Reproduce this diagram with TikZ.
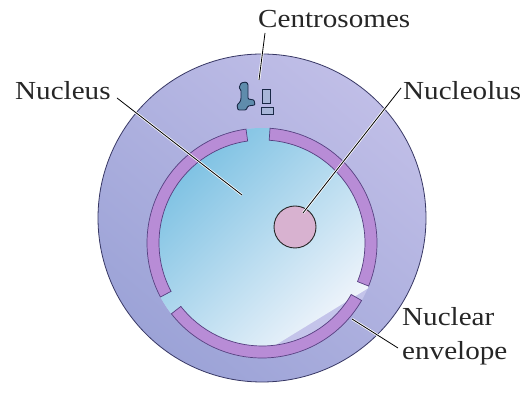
\documentclass[tikz,border=0pt]{standalone}
\usepackage{fontspec}
\setmainfont[FakeStretch=1.12]{Liberation Serif}
\definecolor{cytoLight}{RGB}{192,190,231}
\definecolor{cytoDark}{RGB}{156,163,215}
\definecolor{cytoPale}{RGB}{196,196,234}
\definecolor{nucTop}{RGB}{122,192,226}
\definecolor{nucBottom}{RGB}{244,246,252}
\definecolor{envFill}{RGB}{184,140,214}
\definecolor{envDraw}{RGB}{86,64,128}
\definecolor{cellLine}{RGB}{55,55,100}
\definecolor{nucleolusFill}{RGB}{216,178,208}
\definecolor{centroFill}{RGB}{95,140,172}
\definecolor{centroPale}{RGB}{168,182,216}
\definecolor{centroLine}{RGB}{25,40,70}
\begin{document}
\begin{tikzpicture}[x=1pt,y=1pt,
  labeltext/.style={font=\fontsize{26}{34}\selectfont, inner sep=0pt,
    anchor=base west, text=black!85, align=left},
  leader/.style={draw=black, line width=0.8pt,
    preaction={draw=white, line width=2.4pt}},
  envelopepiece/.style={fill=envFill, draw=envDraw, line width=0.7pt},
  centro/.style={fill=centroFill, draw=centroLine, line width=0.9pt},
  centrobox/.style={fill=centroPale, draw=centroLine, line width=0.9pt}]
\useasboundingbox (0,0) rectangle (527,401);
\fill[white] (0,0) rectangle (527,401);

% cytoplasm
\shade[top color=cytoLight, bottom color=cytoDark, shading angle=-40]
  (262,183) circle (164);
\draw[cellLine, line width=0.8pt] (262,183) circle (164);

% pale rim under the nucleus, seen where the nucleoplasm is cut away
\fill[cytoPale] (262,158) circle (115);

% nucleoplasm, cut off along a diagonal at the lower right
\begin{scope}
  \clip (137,-29) -- (512,201) -- (512,420) -- (-10,420) -- (-10,-29) -- cycle;
  \shade[top color=nucTop, bottom color=nucBottom, shading angle=45]
    (262,158) circle (115);
\end{scope}

% nuclear envelope in three pieces
\foreach \a/\b in {98/208, -22/86, 218/330}{
  \path[envelopepiece] ([shift={(\a:115)}]262,158)
    arc[start angle=\a, end angle=\b, radius=115]
    -- ([shift={(\b:103)}]262,158)
    arc[start angle=\b, end angle=\a, radius=103] -- cycle;
}

% nucleolus
\node[circle, minimum size=42pt, inner sep=0pt, fill=nucleolusFill,
  draw=black!85, line width=0.9pt] (nucleolus) at (295,174) {};

% centrosomes
\path[centro, rounded corners=1pt]
  (241,318) -- (246,319) -- (248,317) -- (248,302) -- (254,301)
  -- (255,296) -- (248,295) -- (246,291) -- (238,291) -- (237,296)
  -- (240,299) -- (241,302) -- (241,311) -- (239,313) -- cycle;
\path[centrobox] (262,298) rectangle (270,312);
\path[centrobox] (261,287) rectangle (273,294);

% labels
\node[labeltext] (lblCentro) at (258,373) {Centrosomes};
\node[labeltext] (lblNucleus) at (15,301) {Nucleus};
\node[labeltext] (lblNucleolus) at (403,301) {Nucleolus};
\node[labeltext] (lblEnvelope) at (402,41) {Nuclear\\envelope};

% leader lines
\coordinate (centroTop) at (265,368);
\coordinate (centroEnd) at (259,321);
\coordinate (nucleusStart) at (117,303);
\coordinate (nucleusEnd) at (242,206);
\coordinate (nucleolusStart) at (401,313);
\coordinate (nucleolusEnd) at (303,188);
\coordinate (envelopeStart) at (398,53);
\coordinate (envelopeEnd) at (352,82);
\draw[leader] (centroTop) -- (centroEnd);
\draw[leader] (nucleusStart) -- (nucleusEnd);
\draw[leader] (nucleolusStart) -- (nucleolusEnd);
\draw[leader] (envelopeStart) -- (envelopeEnd);
\end{tikzpicture}
\end{document}
